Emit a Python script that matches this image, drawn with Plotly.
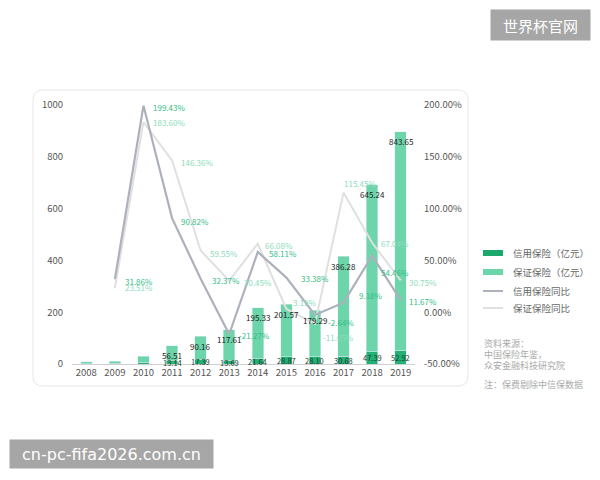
import plotly.graph_objects as go

years = ["2008", "2009", "2010", "2011", "2012", "2013", "2014", "2015", "2016", "2017", "2018", "2019"]
credit = [1.74, 2.30, 6.89, 13.14, 17.39, 13.69, 21.64, 28.87, 28.10, 30.68, 47.39, 52.92]
guarantee = [6.55, 8.09, 22.94, 56.51, 90.16, 117.61, 195.33, 201.57, 179.29, 386.28, 645.24, 843.65]
yoy_years = years[1:]
credit_yoy = [31.86, 199.43, 90.82, 32.37, -21.27, 58.11, 33.38, -2.64, 9.18, 54.46, 11.67]
guarantee_yoy = [23.51, 183.60, 146.36, 59.55, 30.45, 66.08, 3.19, -11.05, 115.45, 67.04, 30.75]
left_ticks = [0, 200, 400, 600, 800, 1000]
right_ticks = [-50, 0, 50, 100, 150, 200]

legend_names = ["信用保险（亿元）", "保证保险（亿元）", "信用保险同比", "保证保险同比"]
source_lines = ["资料来源：", "中国保险年鉴，", "众安金融科技研究院"]
note_text = "注：保费剔除中信保数据"

# label offsets in pixels (dx right, dy down) - style only
credit_lbl_off = [(8, 2), (8, 2), (7, 3), (9, 2), (8, 1), (9, 1), (13, 1), (11, 8), (13, -7), (7, 17), (6, 1)]
guar_lbl_off = [(8, 0), (8, 1), (7, 2), (7, 3), (13, 2), (5, 2), (5, -6), (6, 14), (-2, -9), (7, 1), (6, 2)]

C_DARK = "#22b074"
C_LIGHT = "#6dd5aa"
C_LINE1 = "#adb1bd"
C_LINE2 = "#e0e0e0"
FONT = "Noto Sans CJK SC"

# plot area in pixels
L, R, T, B = 72, 415, 105, 364
W, H = R - L, B - T


def px(x):
    return (x - L) / W


def py(y):
    return (B - y) / H


fig = go.Figure()
fig.add_bar(x=years, y=credit, name=legend_names[0], marker_color=C_DARK,
            width=0.4, yaxis="y", showlegend=False)
fig.add_bar(x=years, y=guarantee, name=legend_names[1], marker_color=C_LIGHT,
            width=0.4, yaxis="y", showlegend=False)

fig.add_scatter(x=yoy_years, y=guarantee_yoy, yaxis="y2", mode="lines",
                line=dict(color=C_LINE2, width=2), cliponaxis=False,
                name=legend_names[3], showlegend=False)
fig.add_scatter(x=yoy_years, y=credit_yoy, yaxis="y2", mode="lines",
                line=dict(color=C_LINE1, width=2.2), cliponaxis=False,
                name=legend_names[2], showlegend=False)

annotations = []
for i, yr in enumerate(years):
    if guarantee[i] < 40:
        continue
    annotations.append(dict(x=i, y=credit[i] + guarantee[i], xref="x", yref="y",
                            text=f"{guarantee[i]:.2f}", showarrow=False, yshift=-10,
                            font=dict(size=8, color="#222", family=FONT)))
    annotations.append(dict(x=i, y=credit[i] / 2, xref="x", yref="y",
                            text=f"{credit[i]:.2f}", showarrow=False,
                            font=dict(size=7.5, color="#1d3d30", family=FONT)))

for j, yr in enumerate(yoy_years):
    xi = years.index(yr)
    dx, dy = guar_lbl_off[j]
    annotations.append(dict(x=xi, y=guarantee_yoy[j], xref="x", yref="y2",
                            text=f"{guarantee_yoy[j]:.2f}%", showarrow=False,
                            xanchor="left", yanchor="middle", xshift=dx, yshift=-dy,
                            font=dict(size=8, color="#8ddbbb", family=FONT)))
    dx, dy = credit_lbl_off[j]
    annotations.append(dict(x=xi, y=credit_yoy[j], xref="x", yref="y2",
                            text=f"{credit_yoy[j]:.2f}%", showarrow=False,
                            xanchor="left", yanchor="middle", xshift=dx, yshift=-dy,
                            font=dict(size=8, color="#35bd86", family=FONT)))

# legend
leg_y = [253, 272, 291, 308]
shapes = []
shapes.append(dict(type="rect", xref="paper", yref="paper", x0=px(483), x1=px(503),
                   y0=py(256), y1=py(250), fillcolor="#1aa86b", line=dict(width=0)))
shapes.append(dict(type="rect", xref="paper", yref="paper", x0=px(483), x1=px(503),
                   y0=py(275), y1=py(269), fillcolor=C_LIGHT, line=dict(width=0)))
shapes.append(dict(type="line", xref="paper", yref="paper", x0=px(483), x1=px(503),
                   y0=py(291), y1=py(291), line=dict(color=C_LINE1, width=2)))
shapes.append(dict(type="line", xref="paper", yref="paper", x0=px(483), x1=px(503),
                   y0=py(308), y1=py(308), line=dict(color=C_LINE2, width=2)))
for name, yy in zip(legend_names, leg_y):
    annotations.append(dict(x=px(511), y=py(yy), xref="paper", yref="paper", text=name,
                            showarrow=False, xanchor="left", yanchor="middle",
                            font=dict(size=9.5, color="#666", family=FONT)))

for txt, yy in zip(source_lines, [343, 354, 365]):
    annotations.append(dict(x=px(482), y=py(yy), xref="paper", yref="paper", text=txt,
                            showarrow=False, xanchor="left", yanchor="middle",
                            font=dict(size=9, color="#aaa", family=FONT)))
annotations.append(dict(x=px(482), y=py(384), xref="paper", yref="paper", text=note_text,
                        showarrow=False, xanchor="left", yanchor="middle",
                        font=dict(size=9, color="#aaa", family=FONT)))

# card
x0, x1, y0, y1 = px(33), px(468), py(386), py(90)
rx, ry = 10 / W, 10 / H
card = (f"M {x0+rx},{y0} L {x1-rx},{y0} Q {x1},{y0} {x1},{y0+ry} "
        f"L {x1},{y1-ry} Q {x1},{y1} {x1-rx},{y1} L {x0+rx},{y1} "
        f"Q {x0},{y1} {x0},{y1-ry} L {x0},{y0+ry} Q {x0},{y0} {x0+rx},{y0} Z")
shapes.insert(0, dict(type="path", xref="paper", yref="paper", path=card,
                      line=dict(color="#e6e6e6", width=1), fillcolor="white", layer="below"))

# watermarks
annotations.append(dict(x=px(540.5), y=py(25), xref="paper", yref="paper", text="世界杯官网",
                        showarrow=False, xanchor="center", yanchor="middle",
                        width=99, height=30, bgcolor="#a6a6a6", borderpad=0,
                        font=dict(size=15, color="white", family=FONT)))
annotations.append(dict(x=px(111.5), y=py(454), xref="paper", yref="paper",
                        text="cn-pc-fifa2026.com.cn",
                        showarrow=False, xanchor="center", yanchor="middle",
                        width=203, height=28, bgcolor="#a6a6a6", borderpad=0,
                        font=dict(size=16, color="white", family="DejaVu Sans")))

fig.update_layout(
    width=600, height=480,
    margin=dict(l=L, r=600 - R, t=T, b=480 - B),
    paper_bgcolor="white", plot_bgcolor="rgba(0,0,0,0)",
    barmode="stack", bargap=0.6,
    font=dict(family=FONT, color="#555", size=9.5),
    xaxis=dict(type="category", range=[-0.5, len(years) - 0.5], showgrid=False,
               showline=True, linecolor="#d0d0d0",
               ticks="", tickfont=dict(size=9.5, color="#555")),
    yaxis=dict(range=[0, 1000], tickvals=left_ticks, showgrid=False, zeroline=False,
               ticks="", ticklabelstandoff=8, tickfont=dict(size=9.5, color="#555")),
    yaxis2=dict(range=[-50, 200], tickvals=right_ticks,
                ticktext=[f"{v:.2f}%" for v in right_ticks],
                overlaying="y", side="right", showgrid=False, zeroline=False,
                ticks="", ticklabelstandoff=8, tickfont=dict(size=9.5, color="#555")),
    shapes=shapes, annotations=annotations,
)

fig.write_html("out.html")
